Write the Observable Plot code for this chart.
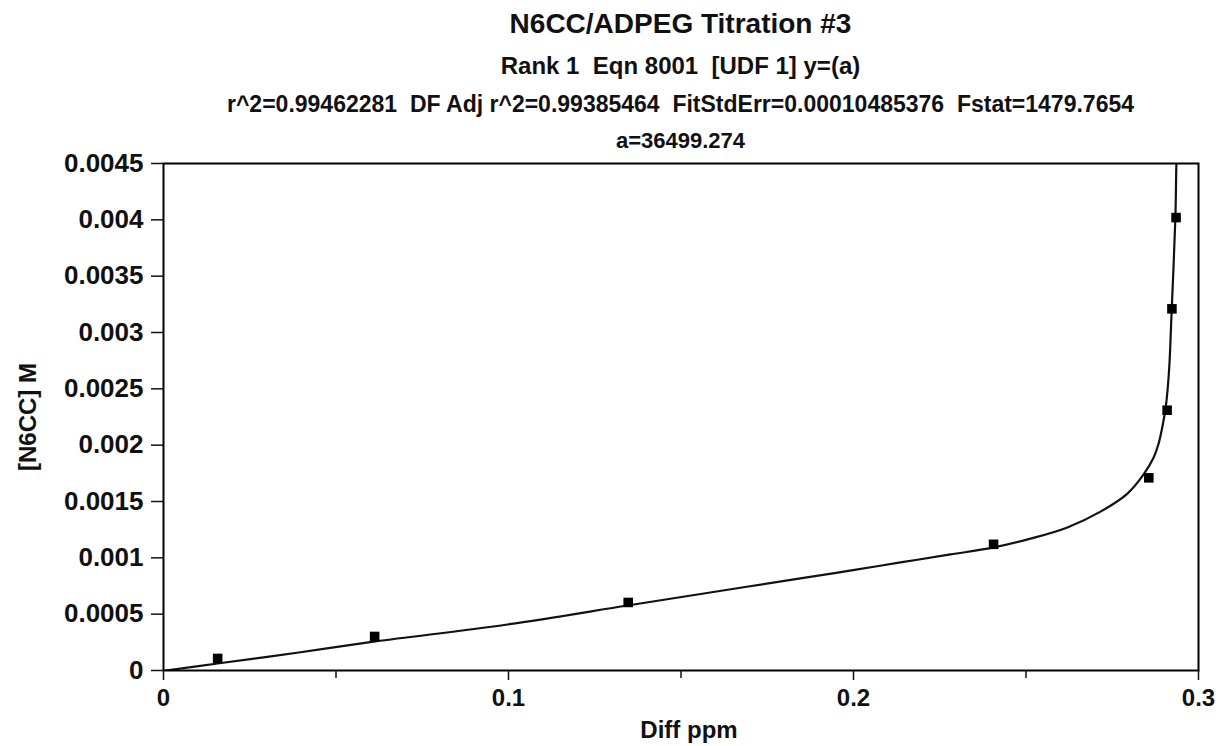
<!DOCTYPE html>
<html>
<head>
<meta charset="utf-8">
<script src="https://cdn.jsdelivr.net/npm/d3@7"></script>
<script src="https://cdn.jsdelivr.net/npm/@observablehq/plot@0.6"></script>
<style>
  html, body { margin: 0; padding: 0; background: #fff; }
  #wrap { width: 1225px; height: 746px; position: relative; overflow: hidden; }
  #header { position: absolute; left: 0; top: 0; width: 1225px; height: 150px; font-family: "Liberation Sans", Arial, sans-serif; font-weight: bold; color: #111; z-index: 2; pointer-events: none; }
  #chart { position: absolute; left: 0; top: 0; }
  .line { position: absolute; left: 163px; width: 1035px; text-align: center; white-space: pre; line-height: 1; }
</style>
</head>
<body>
<div id="wrap">
  <div id="chart"></div>
  <div id="header">
    <div class="line" id="t1" style="top:10px;font-size:28px;"></div>
    <div class="line" id="t2" style="top:54px;font-size:24px;"></div>
    <div class="line" id="t3" style="top:93px;font-size:23px;"></div>
    <div class="line" id="t4" style="top:130px;font-size:22px;"></div>
  </div>
</div>
<script>
// ---- Text ----
const titleLines = [
  "N6CC/ADPEG Titration #3",
  "Rank 1  Eqn 8001  [UDF 1] y=(a)",
  "r^2=0.99462281  DF Adj r^2=0.99385464  FitStdErr=0.00010485376  Fstat=1479.7654",
  "a=36499.274"
];
const xLabel = "Diff ppm";
const yLabel = "[N6CC] M";

// ---- Data points ----
const pointX = [0.0157, 0.0612, 0.1347, 0.2406, 0.2856, 0.2909, 0.2923, 0.2935];
const pointY = [0.000107, 0.000302, 0.000604, 0.00112, 0.00171, 0.00231, 0.00321, 0.00402];

// ---- Fitted curve ----
const curveX = [0.00058, 0.01565, 0.0397, 0.0614, 0.0997, 0.1345, 0.1557, 0.1846, 0.1994, 0.2136, 0.2281, 0.2403, 0.2513, 0.2620, 0.2716, 0.2794, 0.2841, 0.2870, 0.2884, 0.2897, 0.2906, 0.2915, 0.2922, 0.2933, 0.2936, 0.2938];
const curveY = [0.0, 0.0000621, 0.000162, 0.000258, 0.000408, 0.000577, 0.000679, 0.000818, 0.000888, 0.000959, 0.00103, 0.00109, 0.00117, 0.00127, 0.00141, 0.00157, 0.00174, 0.00189, 0.00201, 0.00219, 0.00236, 0.00268, 0.00318, 0.00402, 0.0045, 0.00462];

// ---- Ticks ----
const xTicks = [0, 0.1, 0.2, 0.3];
const xTickLabels = ["0", "0.1", "0.2", "0.3"];
const xMinorTicks = [0.05, 0.15, 0.25];
const yTicks = [0, 0.0005, 0.001, 0.0015, 0.002, 0.0025, 0.003, 0.0035, 0.004, 0.0045];
const yTickLabels = ["0", "0.0005", "0.001", "0.0015", "0.002", "0.0025", "0.003", "0.0035", "0.004", "0.0045"];

titleLines.forEach((t, i) => { document.getElementById("t" + (i + 1)).textContent = t; });

const points = pointX.map((x, i) => ({x, y: pointY[i]}));
const curve = curveX.map((x, i) => ({x, y: curveY[i]}));

const chart = Plot.plot({
  width: 1225,
  height: 746,
  marginTop: 163,
  marginBottom: 76,
  marginLeft: 163,
  marginRight: 27,
  style: {fontFamily: "Liberation Sans, Arial, sans-serif", fontWeight: "bold", fontSize: "26px", color: "#111", background: "white"},
  x: {domain: [0, 0.3]},
  y: {domain: [0, 0.0045]},
  marks: [
    Plot.line(curve, {x: "x", y: "y", stroke: "#111", strokeWidth: 2.2, curve: "catmull-rom", clip: true}),
    Plot.dot(points, {x: "x", y: "y", symbol: "square", r: 5.4, fill: "#000", stroke: "none"}),
    Plot.frame({stroke: "#000", strokeWidth: 2}),
    Plot.axisY({ticks: yTicks, tickSize: 12, tickPadding: 8, tickFormat: d => yTickLabels[yTicks.indexOf(d)], label: null, strokeWidth: 1.5}),
    Plot.axisX({ticks: xTicks, tickSize: 10, tickPadding: 8, tickFormat: d => xTickLabels[xTicks.indexOf(d)], label: null, fontSize: 24, strokeWidth: 1.5}),
    Plot.axisX({ticks: xMinorTicks, tickSize: 8, tickFormat: () => "", label: null, strokeWidth: 1.5}),
    Plot.text([yLabel], {frameAnchor: "left", textAnchor: "middle", lineAnchor: "middle", rotate: -90, dx: -135, fontSize: 24, fill: "#111"}),
    Plot.text([xLabel], {frameAnchor: "bottom", textAnchor: "middle", lineAnchor: "middle", dy: 60, dx: 8, fontSize: 24, fill: "#111"})
  ]
});
document.getElementById("chart").appendChild(chart);
</script>
</body>
</html>
